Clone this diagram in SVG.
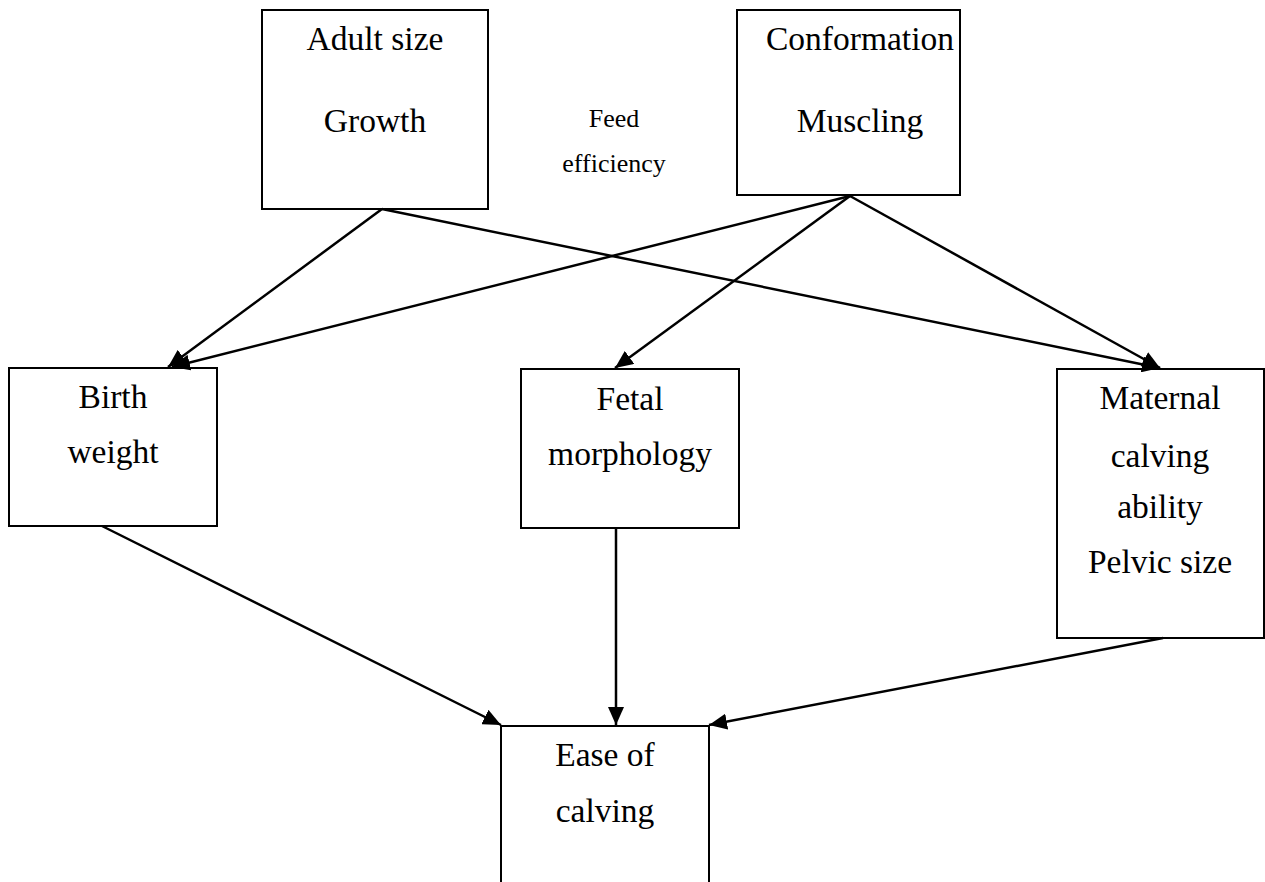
<svg xmlns="http://www.w3.org/2000/svg" width="1265" height="882" viewBox="0 0 1265 882">
<style>
.box{fill:#fff;stroke:#000;stroke-width:2}
.t{font-family:"Liberation Serif","Times New Roman",serif;font-size:33.5px;fill:#000;text-anchor:middle}
.s{font-family:"Liberation Serif","Times New Roman",serif;font-size:26px;fill:#000;text-anchor:middle}
.c{stroke:#000;stroke-width:2.5;fill:none;marker-end:url(#ah)}
</style>
<defs>
<marker id="ah" markerUnits="userSpaceOnUse" markerWidth="20" markerHeight="16" refX="18" refY="8" orient="auto">
<path d="M0,0 L18,8 L0,16 Z" fill="#000"/>
</marker>
</defs>
<rect width="1265" height="882" fill="#fff"/>
<g id="node-adult">
<rect class="box" x="262" y="10" width="226" height="199"/>
<text class="t" x="375" y="50">Adult size</text>
<text class="t" x="375" y="132">Growth</text>
</g>
<g id="label-feed">
<text class="s" x="614" y="127">Feed</text>
<text class="s" x="614" y="172">efficiency</text>
</g>
<g id="node-conformation">
<rect class="box" x="737" y="10" width="223" height="185"/>
<text class="t" x="860" y="50">Conformation</text>
<text class="t" x="860" y="132">Muscling</text>
</g>
<g id="node-birth">
<rect class="box" x="9" y="368" width="208" height="158"/>
<text class="t" x="113" y="408">Birth</text>
<text class="t" x="113" y="463">weight</text>
</g>
<g id="node-fetal">
<rect class="box" x="521" y="369" width="218" height="159"/>
<text class="t" x="630" y="410">Fetal</text>
<text class="t" x="630" y="465">morphology</text>
</g>
<g id="node-maternal">
<rect class="box" x="1057" y="369" width="207" height="269"/>
<text class="t" x="1160" y="409">Maternal</text>
<text class="t" x="1160" y="467">calving</text>
<text class="t" x="1160" y="518">ability</text>
<text class="t" x="1160" y="573">Pelvic size</text>
</g>
<g id="node-ease">
<rect class="box" x="501" y="726" width="208" height="170"/>
<text class="t" x="605" y="766">Ease of</text>
<text class="t" x="605" y="822">calving</text>
</g>
<g id="connectors">
<line class="c" x1="382" y1="209" x2="168" y2="367"/>
<line class="c" x1="382" y1="209" x2="1160" y2="368"/>
<line class="c" x1="850" y1="196" x2="172" y2="367"/>
<line class="c" x1="850" y1="196" x2="615" y2="368"/>
<line class="c" x1="850" y1="196" x2="1160" y2="368"/>
<line class="c" x1="102" y1="526" x2="501" y2="725"/>
<line class="c" x1="616" y1="528" x2="616" y2="725"/>
<line class="c" x1="1163" y1="638" x2="709" y2="725"/>
</g>
</svg>
